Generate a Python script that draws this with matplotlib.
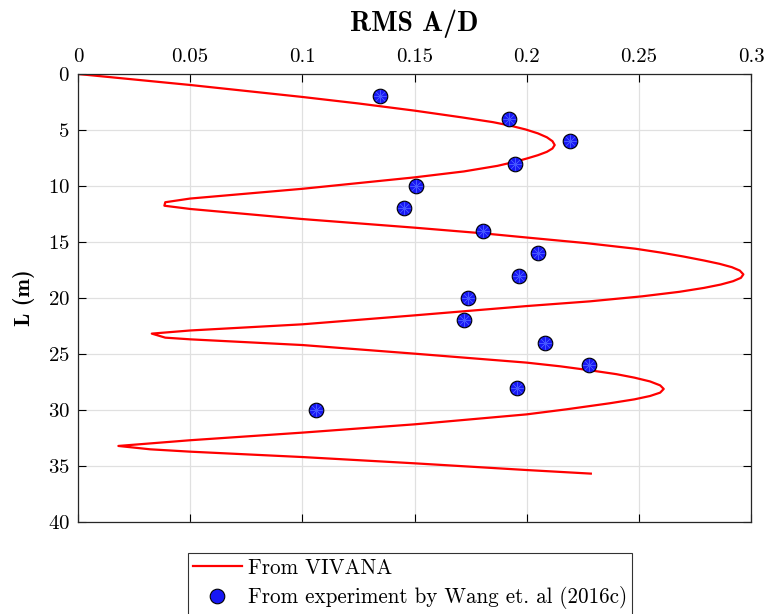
import matplotlib.pyplot as plt
import matplotlib.ticker as mticker

# VIVANA prediction (depth L in m, RMS A/D)
vivana_L = [0, 0.98, 2.05, 2.63, 3.27, 3.87, 4.3, 4.6, 4.95, 5.3, 5.65, 6.0, 6.34,
            6.65, 6.95, 7.25, 7.55, 7.85, 8.2, 8.7, 9.23, 10.25, 11.12, 11.45, 11.76,
            12.05, 12.95, 13.72, 14.23, 14.6, 15.1, 15.6, 15.95, 16.3, 16.65, 16.95,
            17.25, 17.55, 17.89, 18.2, 18.5, 18.8, 19.1, 19.45, 19.85, 20.3, 20.72,
            21.55, 22.35, 22.9, 23.18, 23.54, 23.69, 24.2, 24.97, 25.77, 26.1, 26.45,
            26.8, 27.11, 27.45, 27.8, 28.12, 28.45, 28.75, 29.05, 29.4, 29.94, 30.39,
            31.28, 32.02, 32.7, 33.21, 33.51, 33.72, 34.2, 34.76, 35.36, 35.68]
vivana_AD = [0, 0.05, 0.10, 0.125, 0.15, 0.171, 0.185, 0.1925, 0.1995, 0.2050, 0.2090,
             0.2115, 0.2125, 0.2115, 0.2090, 0.2050, 0.2000, 0.1945, 0.1870, 0.1720,
             0.15, 0.10, 0.05, 0.0389, 0.0385, 0.05, 0.10, 0.15, 0.1808, 0.20, 0.2265,
             0.2485, 0.2600, 0.2700, 0.2790, 0.2860, 0.2915, 0.2950, 0.2966, 0.2955,
             0.2920, 0.2865, 0.2790, 0.2680, 0.2515, 0.2281, 0.20, 0.15, 0.10, 0.05,
             0.0329, 0.0389, 0.05, 0.10, 0.15, 0.20, 0.2150, 0.2281, 0.2400, 0.2480,
             0.2550, 0.2595, 0.2611, 0.2595, 0.2550, 0.2480, 0.2370, 0.2177, 0.20,
             0.15, 0.10, 0.05, 0.018, 0.0322, 0.05, 0.10, 0.15, 0.20, 0.2286]

# Experiment (Wang et al. 2016c)
exp_L = [2, 4, 6, 8, 10, 12, 14, 16, 18, 20, 22, 24, 26, 28, 30]
exp_AD = [0.1344, 0.1923, 0.2194, 0.1949, 0.1508, 0.1452, 0.1806, 0.2049,
          0.1964, 0.1738, 0.1720, 0.2083, 0.2278, 0.1956, 0.1060]

plt.rcParams["font.family"] = ["cmr10", "DejaVu Serif"]
plt.rcParams["axes.formatter.use_mathtext"] = True
plt.rcParams["font.size"] = 15

fig = plt.figure(figsize=(7.66, 6.14), dpi=100)
ax = fig.add_axes([78 / 766, 1 - 522 / 614, 673 / 766, 448 / 614])

ax.plot(vivana_AD, vivana_L, color="red", linewidth=1.6, label="From VIVANA")
ax.plot(exp_AD, exp_L, linestyle="none", marker="o", markersize=10.5,
        markerfacecolor="#1818f4", markeredgecolor="black", markeredgewidth=0.8,
        label="From experiment by Wang et. al (2016c)")
# faint asterisk texture inside the markers
ax.plot(exp_AD, exp_L, linestyle="none", marker=(8, 2, 0), markersize=9,
        markeredgecolor="#4657ff", markeredgewidth=0.4)

ax.set_xlim(0, 0.3)
ax.set_ylim(40, 0)
ax.set_xticks([0, 0.05, 0.1, 0.15, 0.2, 0.25, 0.3])
ax.set_yticks(range(0, 41, 5))
ax.xaxis.set_major_formatter(mticker.FuncFormatter(lambda v, p: "%g" % round(v, 3)))
ax.xaxis.tick_top()
ax.xaxis.set_label_position("top")
ax.tick_params(direction="in", top=True, bottom=True, left=True, right=True,
               length=6, width=0.8, labelsize=15, pad=6)
ax.tick_params(axis="x", labeltop=True, labelbottom=False)
ax.grid(True, color="#e0e0e0", linewidth=0.9)
ax.set_axisbelow(True)
for s in ax.spines.values():
    s.set_linewidth(0.9)
    s.set_color("#262626")

ax.set_xlabel("RMS A/D", fontfamily=["cmb10", "DejaVu Serif"], fontsize=20, labelpad=12)
ax.set_ylabel("L (m)", fontfamily=["cmb10", "DejaVu Serif"], fontsize=16, labelpad=9)

h, l = ax.get_legend_handles_labels()
leg = fig.legend(h, l, loc="upper center", bbox_to_anchor=(410 / 766, 1 - 553 / 614),
                 frameon=True, fancybox=False, edgecolor="black", fontsize=15.2,
                 handlelength=2.3, handletextpad=0.3, borderpad=0.25, labelspacing=0.4,
                 borderaxespad=0)
leg.get_frame().set_linewidth(0.8)

plt.savefig("out.png", dpi=100)
plt.close()
